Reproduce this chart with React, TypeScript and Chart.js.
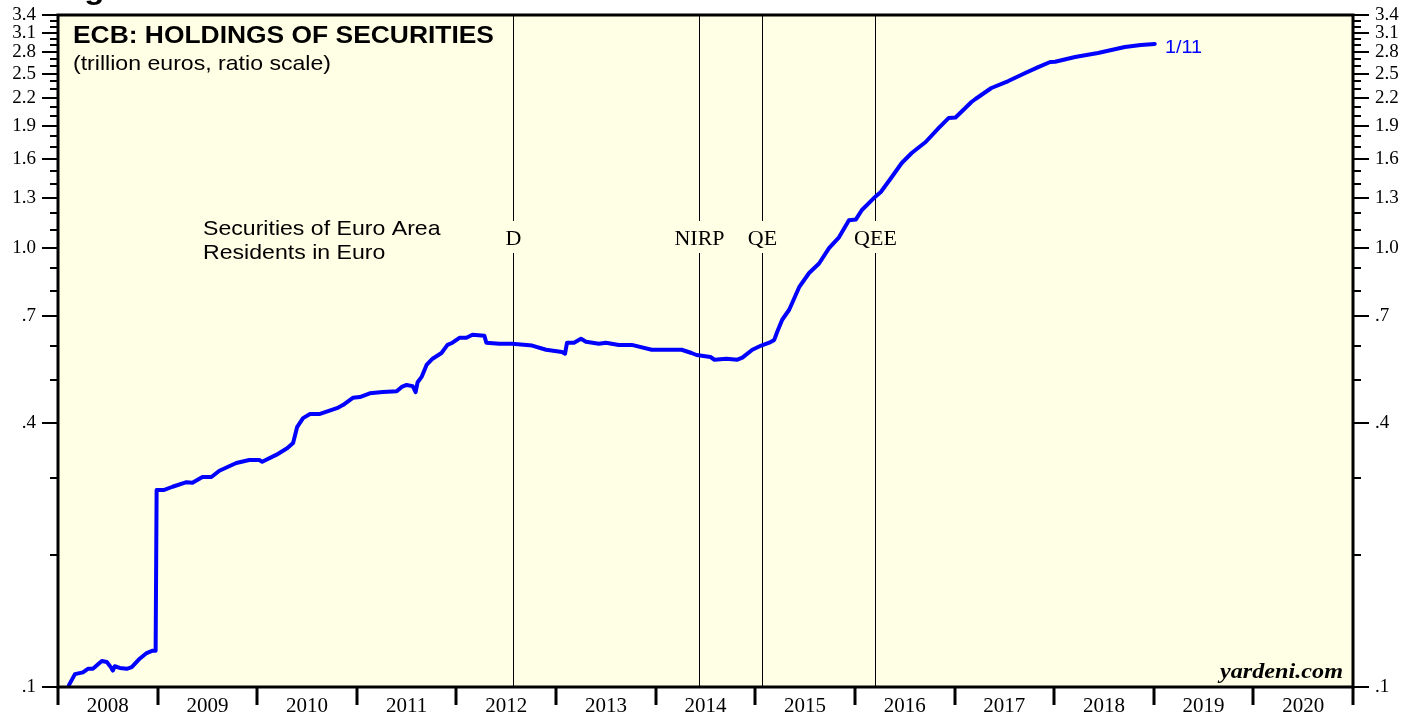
import React, { useEffect, useRef } from 'react';
import { Chart, registerables } from 'chart.js';
Chart.register(...registerables);

// ---- Data (decimal years, trillion euros) ----
const YEARS = [2008, 2009, 2010, 2011, 2012, 2013, 2014, 2015, 2016, 2017, 2018, 2019, 2020];

const DATES = [
  2008.11, 2008.17, 2008.25, 2008.30, 2008.35, 2008.44, 2008.49, 2008.53, 2008.55, 2008.57,
  2008.62, 2008.69, 2008.74, 2008.82, 2008.89, 2008.95, 2008.98, 2008.99, 2009.06, 2009.15,
  2009.29, 2009.35, 2009.45, 2009.54, 2009.62, 2009.79, 2009.92, 2010.02, 2010.05, 2010.19,
  2010.30, 2010.36, 2010.40, 2010.46, 2010.53, 2010.63, 2010.80, 2010.86, 2010.96, 2011.03,
  2011.13, 2011.26, 2011.40, 2011.45, 2011.50, 2011.56, 2011.59, 2011.61, 2011.65, 2011.70,
  2011.76, 2011.85, 2011.91, 2011.96, 2012.03, 2012.10, 2012.16, 2012.28, 2012.30, 2012.43,
  2012.56, 2012.76, 2012.90, 2013.06, 2013.09, 2013.11, 2013.18, 2013.25, 2013.30, 2013.43,
  2013.50, 2013.63, 2013.76, 2013.96, 2014.10, 2014.26, 2014.36, 2014.41, 2014.55, 2014.59,
  2014.71, 2014.82, 2014.87, 2014.97, 2015.06, 2015.14, 2015.19, 2015.22, 2015.27, 2015.34,
  2015.44, 2015.54, 2015.64, 2015.74, 2015.84, 2015.94, 2016.01, 2016.07, 2016.19, 2016.26,
  2016.37, 2016.47, 2016.57, 2016.71, 2016.84, 2016.94, 2017.01, 2017.17, 2017.21, 2017.37,
  2017.54, 2017.71, 2017.84, 2017.96, 2018.01, 2018.21, 2018.44, 2018.71, 2018.87, 2019.01,
];

const HOLDINGS = [
  0.101, 0.107, 0.108, 0.110, 0.110, 0.1146, 0.114, 0.111, 0.109, 0.1115,
  0.1105, 0.110, 0.111, 0.116, 0.1195, 0.121, 0.121, 0.281, 0.281, 0.286,
  0.293, 0.292, 0.301, 0.301, 0.311, 0.324, 0.329, 0.329, 0.326, 0.338,
  0.350, 0.360, 0.391, 0.410, 0.419, 0.419, 0.432, 0.439, 0.456, 0.458,
  0.467, 0.470, 0.472, 0.483, 0.488, 0.485, 0.470, 0.495, 0.509, 0.542,
  0.560, 0.577, 0.602, 0.609, 0.625, 0.625, 0.635, 0.632, 0.609, 0.606,
  0.606, 0.600, 0.587, 0.580, 0.575, 0.609, 0.609, 0.622, 0.612, 0.606,
  0.609, 0.602, 0.602, 0.587, 0.587, 0.587, 0.577, 0.571, 0.565, 0.557,
  0.560, 0.557, 0.563, 0.587, 0.600, 0.609, 0.618, 0.645, 0.687, 0.724,
  0.815, 0.878, 0.923, 1.000, 1.059, 1.158, 1.163, 1.222, 1.301, 1.343,
  1.453, 1.564, 1.648, 1.746, 1.878, 1.980, 1.985, 2.154, 2.188, 2.318,
  2.404, 2.508, 2.587, 2.657, 2.660, 2.728, 2.786, 2.874, 2.904, 2.920,
];

const Y_MAJOR = [0.1, 0.4, 0.7, 1.0, 1.3, 1.6, 1.9, 2.2, 2.5, 2.8, 3.1, 3.4];
const Y_LABELS = ['.1', '.4', '.7', '1.0', '1.3', '1.6', '1.9', '2.2', '2.5', '2.8', '3.1', '3.4'];
const Y_MINOR = [0.2, 0.3, 0.5, 0.6, 0.8, 0.9, 1.1, 1.2, 1.4, 1.5, 1.7, 1.8, 2.0, 2.1, 2.3, 2.4, 2.6, 2.7, 2.9, 3.0, 3.2, 3.3];

const EVENT_LABELS = ['D', 'NIRP', 'QE', 'QEE'];
const EVENT_DATES = [2012.57, 2014.43, 2015.07, 2016.2];

const TITLE = 'ECB: HOLDINGS OF SECURITIES';
const SUBTITLE = '(trillion euros, ratio scale)';
const SERIES_NOTE = ['Securities of Euro Area', 'Residents in Euro'];
const LAST_LABEL = '1/11';
const SOURCE = 'yardeni.com';

const BG = '#FFFFE6';
const BLUE = '#0000FF';
const SX = 1.1;
const SANS = "'Liberation Sans', Arial, sans-serif";
const SERIF = "'Liberation Serif', 'Times New Roman', serif";

function sText(ctx: CanvasRenderingContext2D, text: string, x: number, y: number, align: CanvasTextAlign = 'left', sx = SX) {
  ctx.save();
  ctx.translate(x, y);
  ctx.scale(sx, 1);
  ctx.textAlign = align;
  ctx.fillText(text, 0, 0);
  ctx.restore();
}

const decor = {
  id: 'decor',
  beforeDraw(chart: any) {
    const { ctx, chartArea: a } = chart;
    ctx.save();
    ctx.fillStyle = '#FFFFFF';
    ctx.fillRect(0, 0, chart.width, chart.height);
    ctx.fillStyle = BG;
    ctx.fillRect(a.left, a.top, a.right - a.left, a.bottom - a.top);
    ctx.restore();
  },
  beforeDatasetsDraw(chart: any) {
    const { ctx, chartArea: a } = chart;
    const xs = chart.scales.x;
    ctx.save();
    ctx.strokeStyle = '#000';
    ctx.lineWidth = 1;
    ctx.font = `20px ${SERIF}`;
    ctx.textBaseline = 'middle';
    EVENT_DATES.forEach((d, i) => {
      const px = Math.round(xs.getPixelForValue(d)) + 0.5;
      ctx.beginPath();
      ctx.moveTo(px, a.top);
      ctx.lineTo(px, a.bottom);
      ctx.stroke();
      const w = ctx.measureText(EVENT_LABELS[i]).width * SX;
      ctx.fillStyle = BG;
      ctx.fillRect(px - w / 2 - 3, 221, w + 6, 32);
      ctx.fillStyle = '#000';
      sText(ctx, EVENT_LABELS[i], px, 240, 'center');
    });
    ctx.textBaseline = 'alphabetic';
    ctx.fillStyle = '#000';
    ctx.font = `bold 30px ${SANS}`;
    sText(ctx, 'Figure', 55, -1);
    ctx.font = `bold 24px ${SANS}`;
    sText(ctx, TITLE, 73, 43);
    ctx.font = `21px ${SANS}`;
    sText(ctx, SUBTITLE, 73, 70);
    sText(ctx, SERIES_NOTE[0], 203, 235);
    sText(ctx, SERIES_NOTE[1], 203, 259);
    ctx.restore();
  },
  afterDatasetsDraw(chart: any) {
    const { ctx, chartArea: a } = chart;
    const xs = chart.scales.x;
    const ys = chart.scales.y;
    ctx.save();
    ctx.strokeStyle = '#000';
    ctx.lineWidth = 2;
    const tick = (v: number, len: number) => {
      const py = Math.round(ys.getPixelForValue(v));
      ctx.beginPath();
      ctx.moveTo(a.left - len, py);
      ctx.lineTo(a.left, py);
      ctx.moveTo(a.right, py);
      ctx.lineTo(a.right + len, py);
      ctx.stroke();
    };
    Y_MAJOR.forEach(v => tick(v, 16));
    Y_MINOR.forEach(v => tick(v, 8));
    ctx.lineWidth = 3;
    [...YEARS, YEARS[YEARS.length - 1] + 1].forEach(yr => {
      const px = Math.round(xs.getPixelForValue(yr));
      ctx.beginPath();
      ctx.moveTo(px, a.bottom);
      ctx.lineTo(px, a.bottom + 18);
      ctx.stroke();
    });
    ctx.lineWidth = 3;
    ctx.strokeRect(a.left, a.top, a.right - a.left, a.bottom - a.top);
    ctx.fillStyle = BLUE;
    ctx.font = `18px ${SANS}`;
    ctx.textBaseline = 'alphabetic';
    sText(ctx, LAST_LABEL, 1165, 53);
    ctx.fillStyle = '#000';
    ctx.font = `italic bold 22px ${SERIF}`;
    sText(ctx, SOURCE, 1343, 678, 'right');
    ctx.restore();
  },
};

export default function App() {
  const ref = useRef<HTMLCanvasElement>(null);
  useEffect(() => {
    const canvas = ref.current;
    if (!canvas) return;
    const yAxis = (position: 'left' | 'right', width: number) => ({
      type: 'logarithmic' as const,
      position,
      min: 0.1,
      max: 3.4,
      grid: { display: false, drawTicks: false },
      border: { display: false },
      afterBuildTicks: (s: any) => {
        s.ticks = Y_MAJOR.map(v => ({ value: v }));
      },
      afterFit: (s: any) => {
        s.width = width;
        s.paddingTop = 0;
        s.paddingBottom = 0;
      },
      ticks: {
        autoSkip: false,
        padding: 22,
        color: '#000',
        font: { family: SERIF, size: 19 },
        callback: (_v: any, i: number) => Y_LABELS[i],
      },
    });
    const chart = new Chart(canvas, {
      type: 'line',
      data: {
        datasets: [
          {
            data: DATES.map((d, i) => ({ x: d, y: HOLDINGS[i] })),
            borderColor: BLUE,
            borderWidth: 4,
            pointRadius: 0,
            tension: 0,
            fill: false,
            borderJoinStyle: 'round',
            borderCapStyle: 'round',
            xAxisID: 'x',
            yAxisID: 'y',
          },
        ],
      },
      options: {
        responsive: false,
        maintainAspectRatio: false,
        animation: false,
        events: [],
        layout: { padding: { top: 15, left: 0, right: 0, bottom: 0 } },
        plugins: { legend: { display: false }, tooltip: { enabled: false }, title: { display: false } },
        scales: {
          x: {
            type: 'linear',
            position: 'bottom',
            min: 2008,
            max: 2021,
            grid: { display: false, drawTicks: false },
            border: { display: false },
            afterBuildTicks: (s: any) => {
              s.ticks = YEARS.map(y => ({ value: y + 0.5 }));
            },
            afterFit: (s: any) => {
              s.height = 34;
              s.paddingLeft = 0;
              s.paddingRight = 0;
            },
            ticks: {
              autoSkip: false,
              maxRotation: 0,
              minRotation: 0,
              padding: 7,
              color: '#000',
              font: { family: SERIF, size: 21 },
              callback: (v: any) => String(Math.floor(Number(v))),
            },
          },
          y: yAxis('left', 58),
          y2: yAxis('right', 61),
        },
      } as any,
      plugins: [decor],
    });
    return () => chart.destroy();
  }, []);
  return (
    <div style={{ position: 'fixed', left: 0, top: 0, width: 1414, height: 721, background: '#fff' }}>
      <canvas ref={ref} width={1414} height={721} style={{ display: 'block', width: 1414, height: 721 }} />
    </div>
  );
}
